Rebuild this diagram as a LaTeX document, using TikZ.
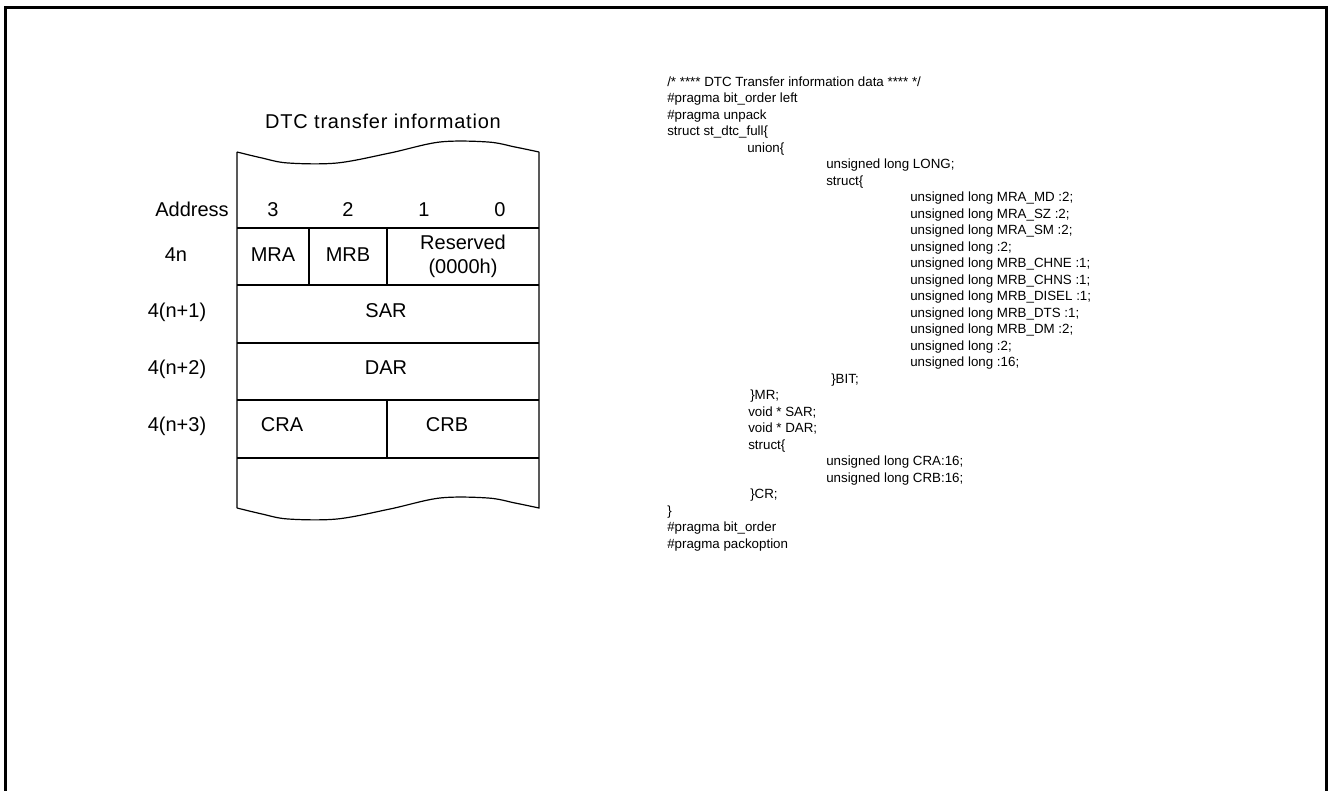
\documentclass[tikz,border=0pt]{standalone}
\usepackage{fontspec}
\setmainfont{Liberation Sans}
\newfontfamily\codefont{Liberation Sans}
\newfontfamily\titlefont[LetterSpace=4]{Liberation Sans}
\begin{document}
\begin{tikzpicture}[x=0.75pt,y=-0.75pt,
  lbl/.style={font=\fontsize{15}{18}\selectfont, inner sep=0pt, text height=0.72em, text depth=0.2em},
  codetext/.style={font=\codefont\fontsize{10}{12}\selectfont, inner sep=0pt, anchor=west, text height=0.72em, text depth=0.22em},
  boxline/.style={line width=0.9pt},
  frameline/.style={line width=2.25pt}]
\useasboundingbox (0,0) rectangle (1328,791);
% outer frame (open at bottom)
\draw[frameline] (5,791) -- (5,8) -- (1326,8) -- (1326,791);

% memory box with wavy top and bottom
\draw[boxline] (237,152) -- (237,508)
  plot[smooth,tension=0.55] coordinates {(237,508) (262,514) (288,519) (337,519) (390,509) (440,498) (488,498) (515,503) (539,508)}
  -- (539,152)
  plot[smooth,tension=0.55] coordinates {(539,152) (515,147) (488,142) (440,142) (390,153) (337,163) (288,163) (262,158) (237,152)};
% horizontal row lines
\foreach \yy in {228,285,343,400,458}
  \draw[boxline] (237,\yy) -- (539,\yy);
% vertical dividers
\draw[boxline] (309,228) -- (309,285);
\draw[boxline] (387,228) -- (387,285);
\draw[boxline] (387,400) -- (387,458);

% left texts
\node[lbl, font=\titlefont\fontsize{15}{18}\selectfont] (title) at (383,125) {DTC transfer information};
\node[lbl, anchor=east] (addr) at (229,213) {Address};
\node[lbl] (b3) at (273,213) {3};
\node[lbl] (b2) at (348,213) {2};
\node[lbl] (b1) at (424,213) {1};
\node[lbl] (b0) at (500,213) {0};
\node[lbl] (a0) at (176,258) {4n};
\node[lbl] (mra) at (273,258) {MRA};
\node[lbl] (mrb) at (348,258) {MRB};
\node[lbl] (res1) at (463,246) {Reserved};
\node[lbl] (res2) at (463,270) {(0000h)};
\node[lbl] (a1) at (177,314) {4(n+1)};
\node[lbl] (sar) at (386,314) {SAR};
\node[lbl] (a2) at (177,371) {4(n+2)};
\node[lbl] (dar) at (386,371) {DAR};
\node[lbl] (a3) at (177,428) {4(n+3)};
\node[lbl] (cra) at (282,428) {CRA};
\node[lbl] (crb) at (447,428) {CRB};

% code listing
\node[codetext] (c1) at (667,83) {/* **** DTC Transfer information data **** */};
\node[codetext] (c2) at (667,99.5) {\#pragma bit\_order left};
\node[codetext] (c3) at (667,116) {\#pragma unpack};
\node[codetext] (c4) at (667,132.5) {struct st\_dtc\_full\{};
\node[codetext] (c5) at (747,149) {union\{};
\node[codetext] (c6) at (826,165.5) {unsigned long LONG;};
\node[codetext] (c7) at (826,182) {struct\{};
\node[codetext] (c8) at (910,198.5) {unsigned long MRA\_MD :2;};
\node[codetext] (c9) at (910,215) {unsigned long MRA\_SZ :2;};
\node[codetext] (c10) at (910,231.5) {unsigned long MRA\_SM :2;};
\node[codetext] (c11) at (910,248) {unsigned long :2;};
\node[codetext] (c12) at (910,264.5) {unsigned long MRB\_CHNE :1;};
\node[codetext] (c13) at (910,281) {unsigned long MRB\_CHNS :1;};
\node[codetext] (c14) at (910,297.5) {unsigned long MRB\_DISEL :1;};
\node[codetext] (c15) at (910,314) {unsigned long MRB\_DTS :1;};
\node[codetext] (c16) at (910,330.5) {unsigned long MRB\_DM :2;};
\node[codetext] (c17) at (910,347) {unsigned long :2;};
\node[codetext] (c18) at (910,363.5) {unsigned long :16;};
\node[codetext] (c19) at (831,380) {\}BIT;};
\node[codetext] (c20) at (750,396.5) {\}MR;};
\node[codetext] (c21) at (748,413) {void * SAR;};
\node[codetext] (c22) at (748,429.5) {void * DAR;};
\node[codetext] (c23) at (748,446) {struct\{};
\node[codetext] (c24) at (826,462.5) {unsigned long CRA:16;};
\node[codetext] (c25) at (826,479) {unsigned long CRB:16;};
\node[codetext] (c26) at (750,495.5) {\}CR;};
\node[codetext] (c27) at (667,512) {\}};
\node[codetext] (c28) at (667,528.5) {\#pragma bit\_order};
\node[codetext] (c29) at (667,545) {\#pragma packoption};
\end{tikzpicture}
\end{document}
